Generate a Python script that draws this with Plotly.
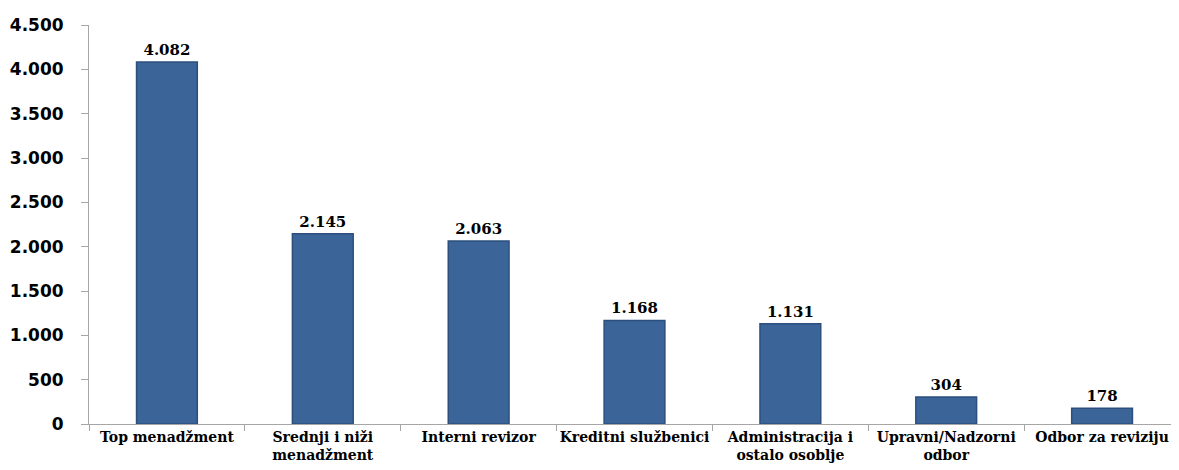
import plotly.graph_objects as go

# --- podaci ---
kategorije = ["Top menadžment", "Srednji i niži<br>menadžment", "Interni revizor",
              "Kreditni službenici", "Administracija i<br>ostalo osoblje",
              "Upravni/Nadzorni<br>odbor", "Odbor za reviziju"]
broj = [4082, 2145, 2063, 1168, 1131, 304, 178]

bar_color = "#3b6499"

fig = go.Figure()
fig.add_trace(go.Bar(
    x=kategorije, y=broj, width=0.39,
    marker=dict(color=bar_color, line=dict(color="#2c4f7e", width=1.5)),
    texttemplate="%{y:,}", textposition="outside", cliponaxis=False,
    textfont=dict(family="DejaVu Serif", size=15, color="black", weight="bold"),
))

# stranica ima 8px margine tijela, pa su margine umanjene
fig.update_layout(
    width=1179, height=470,
    margin=dict(l=81, r=7, t=17, b=54),
    plot_bgcolor="white", paper_bgcolor="white",
    separators=",.", showlegend=False, bargap=0.6,
)
fig.update_yaxes(range=[0, 4500], dtick=500, tickformat=",", showgrid=False,
                 showline=True, linecolor="#a6a6a6", linewidth=1,
                 ticks="outside", ticklen=7, tickcolor="#a6a6a6", ticklabelstandoff=14,
                 tickfont=dict(family="DejaVu Sans", size=17, color="black", weight="bold"),
                 zeroline=False, automargin=False)
fig.update_xaxes(showline=True, linecolor="#a6a6a6", linewidth=1,
                 ticks="outside", tickson="boundaries", ticklen=6, tickcolor="#a6a6a6",
                 tickangle=0,
                 tickfont=dict(family="DejaVu Serif", size=14, color="black", weight="bold"),
                 showgrid=False, automargin=False)

fig.write_html("out.html")
